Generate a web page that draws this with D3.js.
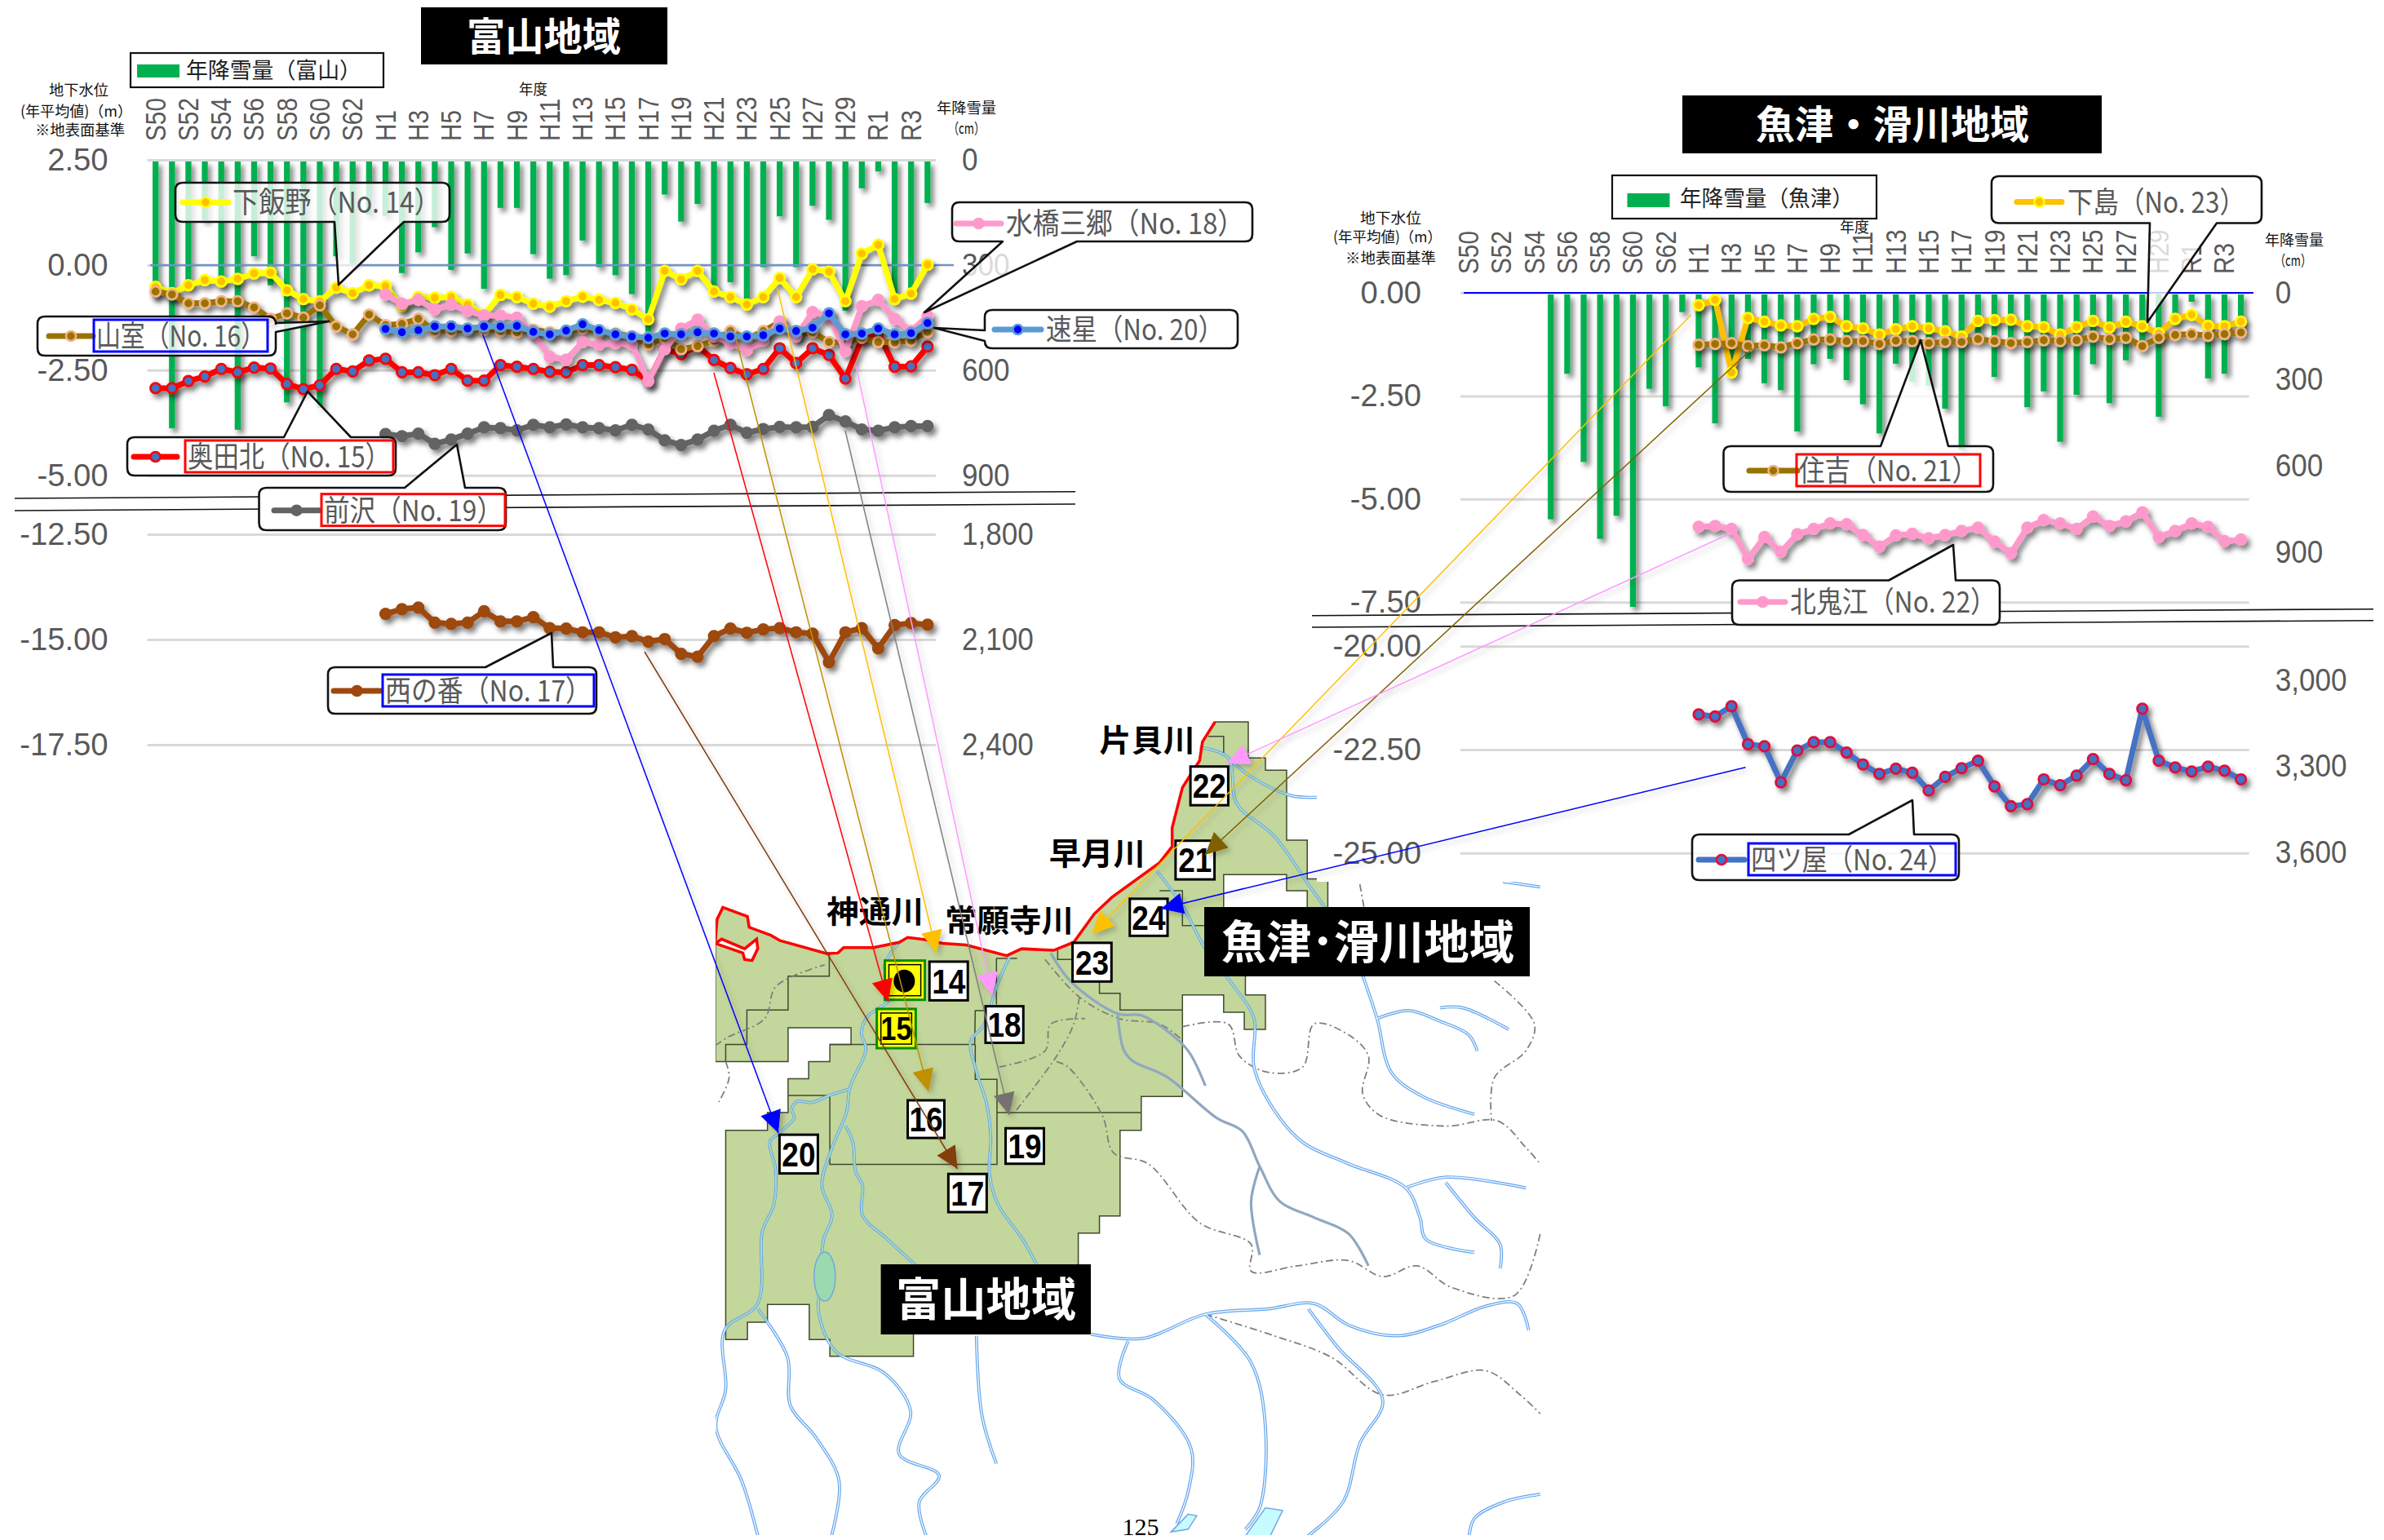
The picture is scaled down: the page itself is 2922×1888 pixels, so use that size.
<!DOCTYPE html>
<html lang="ja"><head><meta charset="utf-8">
<style>
html,body{margin:0;padding:0;background:#fff}
svg{display:block}
text{font-family:"Noto Sans CJK JP","Noto Sans",sans-serif}
.ax text{font-family:"Liberation Sans",sans-serif;fill:#595959}
</style>
<script src="https://cdn.jsdelivr.net/npm/d3@7"></script>
</head><body><div id="c"></div>
<script>
// ---------- DATA ----------
const categories = ["S50","S51","S52","S53","S54","S55","S56","S57","S58","S59","S60","S61","S62","S63",
 "H1","H2","H3","H4","H5","H6","H7","H8","H9","H10","H11","H12","H13","H14","H15","H16","H17","H18","H19","H20",
 "H21","H22","H23","H24","H25","H26","H27","H28","H29","H30","R1","R2","R3","R4"];
const yearTicks = ["S50","S52","S54","S56","S58","S60","S62","H1","H3","H5","H7","H9","H11","H13","H15","H17","H19","H21","H23","H25","H27","H29","R1","R3"];
const lateYears = categories.slice(14);

const toyamaLevelTicks = [2.5,0,-2.5,-5,-12.5,-15,-17.5];
const toyamaSnowTicks = [0,300,600,900,1800,2100,2400];
const uozuLevelTicks = [0,-2.5,-5,-7.5,-20,-22.5,-25];
const uozuSnowTicks = [0,300,600,900,3000,3300,3600];

const snowToyama = [393,766,360,172,358,770,275,358,692,669,708,275,296,157,160,323,264,192,314,267,368,137,137,269,
 339,329,230,306,329,383,490,99,176,126,374,349,397,306,161,306,131,171,430,81,33,382,370,123];
const snowUozu = [null,null,null,null,null,786,281,587,854,774,1090,333,394,67,259,453,267,229,314,338,481,248,229,303,387,
 488,246,309,322,402,545,158,292,163,397,342,517,354,248,383,234,173,430,107,31,297,281,135];

const no14 = [-0.52,-0.67,-0.48,-0.36,-0.39,-0.33,-0.20,-0.18,-0.60,-0.81,-0.86,-0.54,-0.67,-0.48,-0.50,-0.98,-0.76,-0.78,-0.76,-0.94,-1.18,-0.71,-0.76,-0.92,
 -0.99,-0.86,-0.75,-0.83,-0.90,-1.05,-1.29,-0.14,-0.34,-0.14,-0.63,-0.76,-0.94,-0.76,-0.31,-0.76,-0.10,-0.16,-0.86,0.27,0.48,-0.81,-0.68,0.01];
const no16 = [-0.63,-0.70,-0.91,-0.91,-0.86,-0.86,-1.01,-1.28,-1.15,-1.25,-0.96,-1.46,-1.65,-1.18,-1.43,-1.40,-1.28,-1.57,-1.57,-1.54,-1.54,-1.57,-1.60,-1.54,
 -1.60,-1.60,-1.51,-1.60,-1.63,-1.70,-1.89,-1.74,-2.00,-1.93,-1.80,-1.57,-1.76,-1.57,-1.36,-1.67,-1.60,-1.83,-1.86,-1.73,-1.83,-1.84,-1.80,-1.59];
const no15 = [-2.93,-2.93,-2.76,-2.65,-2.47,-2.55,-2.44,-2.46,-2.83,-2.95,-2.86,-2.47,-2.53,-2.27,-2.23,-2.55,-2.55,-2.62,-2.47,-2.75,-2.75,-2.38,-2.42,-2.47,
 -2.54,-2.55,-2.38,-2.38,-2.43,-2.49,-2.76,-1.99,-2.12,-1.93,-2.26,-2.45,-2.60,-2.47,-1.98,-2.33,-1.98,-2.14,-2.70,-1.76,-1.60,-2.42,-2.41,-1.94];
const no18 = [-0.70,-0.92,-0.83,-1.05,-0.94,-1.09,-1.20,-1.20,-1.25,-1.63,-2.18,-2.25,-1.83,-1.89,-1.86,-1.89,-2.76,-2.00,-1.51,-1.30,-1.70,-1.86,-2.02,-1.80,-1.34,-1.70,-1.12,-1.21,-2.05,-0.98,-0.83,-1.28,-1.57,-1.21];
const no20 = [-1.52,-1.60,-1.55,-1.46,-1.46,-1.51,-1.46,-1.46,-1.45,-1.59,-1.65,-1.56,-1.41,-1.55,-1.65,-1.70,-1.73,-1.63,-1.65,-1.60,-1.63,-1.70,-1.70,-1.67,-1.51,-1.57,-1.49,-1.15,-1.65,-1.63,-1.51,-1.65,-1.62,-1.38];
const no19 = [-4.02,-4.07,-4.01,-4.25,-4.15,-4.01,-3.86,-3.88,-3.93,-3.80,-3.86,-3.79,-3.86,-3.88,-3.93,-3.80,-3.91,-4.17,-4.28,-4.15,-3.94,-3.80,-3.99,-3.90,-3.85,-3.86,-3.85,-3.57,-3.72,-3.91,-3.94,-3.86,-3.83,-3.83];
const no17 = [-14.39,-14.28,-14.24,-14.60,-14.63,-14.60,-14.33,-14.57,-14.57,-14.47,-14.73,-14.74,-14.83,-14.83,-14.95,-14.92,-15.05,-14.99,-15.34,-15.41,-14.92,-14.74,-14.84,-14.76,-14.73,-14.83,-14.86,-15.54,-14.83,-14.73,-15.21,-14.66,-14.61,-14.65];
const no23 = [-0.30,-0.17,-1.93,-0.61,-0.70,-0.79,-0.81,-0.63,-0.58,-0.81,-0.86,-1.01,-0.88,-0.81,-0.86,-0.93,-1.06,-0.68,-0.66,-0.65,-0.81,-0.83,-1.01,-0.83,-0.68,-0.84,-0.70,-0.81,-0.98,-0.63,-0.53,-0.80,-0.81,-0.70];
const no21 = [-1.26,-1.24,-1.22,-1.29,-1.27,-1.32,-1.22,-1.13,-1.13,-1.17,-1.17,-1.24,-1.16,-1.17,-1.22,-1.19,-1.19,-1.12,-1.17,-1.22,-1.19,-1.15,-1.17,-1.15,-1.06,-1.12,-1.09,-1.29,-1.09,-1.02,-1.00,-1.04,-1.00,-0.96];
const no22 = [-5.67,-5.65,-5.72,-6.45,-5.92,-6.28,-5.85,-5.72,-5.59,-5.61,-5.87,-6.15,-5.88,-5.84,-5.95,-5.87,-5.77,-5.69,-6.03,-6.31,-5.69,-5.51,-5.59,-5.72,-5.42,-5.65,-5.54,-5.32,-5.92,-5.77,-5.59,-5.67,-6.02,-5.98];
const no24 = [-21.65,-21.70,-21.45,-22.37,-22.42,-23.29,-22.52,-22.32,-22.32,-22.57,-22.86,-23.09,-22.96,-23.06,-23.49,-23.16,-22.95,-22.77,-23.39,-23.87,-23.82,-23.22,-23.36,-23.13,-22.73,-23.09,-23.24,-21.51,-22.77,-22.93,-23.03,-22.91,-23.01,-23.22];

// map geometry, in map units
const coast = [[24,444],[27,405],[37,383],[80,400],[83,420],[121,435],[137,445],[218,469],[238,468],[248,458],[300,458],[345,448],[360,439],[391,443],[421,450],[462,453],[533,473],[559,460],[615,463],[650,448],[686,395],[717,364],[800,300],[822,270],[822,235],[840,160],[870,110],[875,75],[897,38]];
const coastLoop = [[24,450],[72,468],[75,480],[88,482],[98,460],[96,442],[75,460],[35,442]];
const regionTail = [[955,38],[955,105],[985,105],[985,128],[1022,128],[1022,258],[1058,258],[1058,330],[1094,330],[1094,385],[950,512],[950,546],[985,546],[985,610],[948,610],[948,578],[912,578],[912,546],[840,546],[840,735],[768,735],[768,798],[731,798],[731,957],[695,957],[695,989],[658,989],[658,1047],[500,1100],[370,1177],[370,1218],[224,1218],[224,1187],[188,1187],[188,1122],[115,1122],[115,1155],[80,1155],[80,1187],[42,1187],[42,798],[115,798],[115,765],[151,765],[151,702],[187,702],[187,670],[224,670],[224,638],[261,638],[261,607],[151,607],[151,670],[24,670]];
const regionHole = [[912,322],[1022,322],[1022,352],[1058,352],[1058,385],[912,385]];
const meshLines = [
 [[223,469],[223,511],[151,511],[151,574],[79,574],[79,638],[42,638],[42,670]],
 [[224,638],[477,638],[478,575],[495,575]],
 [[151,733],[224,733],[224,861],[516,861],[516,703],[478,703],[478,638]],
 [[516,765],[768,765]],[[515,478],[551,478]],[[515,478],[515,564]],
 [[622,463],[622,480],[648,480]],[[695,519],[695,543],[731,543],[731,574],[840,574]],
 [[800,352],[840,352],[840,417],[878,417]],[[885,65],[912,65],[912,100]]
];
const rivers = [
 [[345,448],[320,490],[330,551],[289,587],[279,617],[287,647],[259,718],[253,764],[228,830],[210,900],[228,956],[213,1001],[208,1070],[205,1140],[235,1210],[320,1250],[365,1320],[345,1400],[415,1440],[380,1490],[395,1560]],
 [[251,789],[264,819],[269,875],[281,900],[281,956],[325,1001],[375,1050]],
 [[259,721],[223,733],[192,746],[167,744],[157,759],[162,774],[134,804],[119,819],[129,870],[126,936],[106,986],[98,1120],[40,1170],[42,1280],[25,1350],[70,1450],[100,1560]],
 [[98,1130],[150,1220],[155,1310],[200,1370],[240,1450],[225,1560]],
 [[538,475],[515,531],[493,602],[470,632],[480,688],[498,749],[505,809],[503,880],[518,936],[561,1001],[585,1047]],
 [[480,1180],[490,1330],[515,1418]],
 [[795,315],[840,380],[880,460],[930,530],[965,590],[965,680],[1000,760],[1050,820],[1130,860],[1230,905],[1255,960],[1265,1000],[1350,1025]],
 [[1230,905],[1300,885],[1440,905]],[[1300,895],[1350,960],[1395,1010],[1395,1055]],
 [[870,85],[920,105],[935,190],[1000,250],[1060,340],[1090,385]],[[920,105],[960,140],[1030,175],[1075,178]],
 [[1155,510],[1180,590],[1205,690],[1260,735],[1350,768]],[[1180,590],[1235,575],[1290,595],[1340,620],[1355,650]],[[1290,570],[1330,570],[1410,610]],
 [[1400,335],[1465,345]],
 [[680,1177],[770,1185],[880,1140],[990,1130],[1070,1120],[1130,1160],[1215,1180],[1290,1160],[1370,1125],[1425,1120],[1445,1170]],
 [[745,1190],[730,1260],[790,1300],[855,1390],[850,1470],[830,1530]],
 [[880,1140],[960,1230],[985,1350],[975,1500],[950,1540]],
 [[1060,1130],[1110,1200],[1190,1300],[1150,1380],[1120,1490],[1050,1560]],
 [[1465,1475],[1400,1490],[1350,1520],[1340,1560]]
];
const greyRivers = [
 [[610,468],[645,521],[727,581],[768,584],[812,612],[850,650],[880,715]],
 [[727,581],[737,647],[752,668],[812,698],[900,775],[945,800],[975,865],[1010,930],[1070,960],[1130,990],[1165,1050]],
 [[975,865],[960,930],[975,1030]]
];
const dottedLines = [
 [[24,640],[45,625],[110,590],[130,530],[215,490]],[[42,670],[48,700],[30,745]],
 [[600,480],[660,550],[730,590],[800,600],[840,630]],
 [[520,680],[600,650],[610,600],[670,590]],[[660,550],[650,600],[620,660],[550,760]],[[620,670],[640,680],[700,770],[720,840],[780,860],[870,970],[960,1010],[960,1060],[1040,1050],[1130,1040],[1190,1070],[1250,1050],[1310,1090],[1420,1105],[1465,990]],
 [[840,605],[920,600],[940,660],[990,690],[1050,680],[1070,600],[1130,620],[1165,660],[1155,730],[1185,770],[1300,790],[1390,780],[1440,830],[1465,860]],
 [[1150,340],[1160,400]],[[1385,520],[1455,600],[1440,650],[1385,700],[1380,780]],
 [[880,1140],[1000,1180],[1100,1220],[1190,1290],[1280,1265],[1370,1245],[1430,1290],[1465,1325]]
];
// ---------- LAYOUT ----------
const W = 2922, H = 1888;
const svg = d3.select("#c").append("svg").attr("width",W).attr("height",H).attr("viewBox",`0 0 ${W} ${H}`);
const defs = svg.append("defs");
const fl2 = defs.append("filter").attr("id","shThin").attr("filterUnits","userSpaceOnUse").attr("x",0).attr("y",0).attr("width",W).attr("height",H);
fl2.append("feDropShadow").attr("dx",4).attr("dy",4).attr("stdDeviation",3).attr("flood-color","#000").attr("flood-opacity",0.22);
defs.append("filter").attr("id","shWide").attr("filterUnits","userSpaceOnUse").attr("x",0).attr("y",0).attr("width",W).attr("height",H)
  .append("feDropShadow").attr("dx",4).attr("dy",5).attr("stdDeviation",3).attr("flood-color","#000").attr("flood-opacity",0.5);

// squeeze a text selection horizontally to a fraction of its natural width
const squeeze = (sel,f)=>sel.each(function(){
  const l=this.getComputedTextLength();
  d3.select(this).attr("textLength",l*f).attr("lengthAdjust","spacingAndGlyphs");
});

const mapX = d3.scaleLinear().domain([0,1568]).range([860,1960]);
const mapY = d3.scaleLinear().domain([0,1560]).range([860,1888]);
const mapLine = d3.line().x(p=>mapX(p[0])).y(p=>mapY(p[1]));
const riverLine = d3.line().x(p=>mapX(p[0])).y(p=>mapY(p[1])).curve(d3.curveCatmullRom.alpha(0.5));

// ---------- MAP ----------
defs.append("clipPath").attr("id","mapClip").append("rect").attr("x",877).attr("y",860).attr("width",1012).attr("height",1022);
const regionPts = coast.concat(regionTail);
defs.append("clipPath").attr("id","regionClip").append("path").attr("d",mapLine(regionPts)+"Z");
const map = svg.append("g").attr("clip-path","url(#mapClip)");
map.append("path").attr("d",mapLine(regionPts)+"Z").attr("fill","#C3D69B").attr("stroke","#3f4a30").attr("stroke-width",1.5);
map.append("path").attr("d",mapLine(regionHole)+"Z").attr("fill","#fff").attr("stroke","#3f4a30").attr("stroke-width",1.5);
map.selectAll("path.mesh").data(meshLines).join("path").attr("class","mesh").attr("d",mapLine).attr("fill","none").attr("stroke","#3f4a30").attr("stroke-width",1.5);
map.selectAll("path.dot").data(dottedLines).join("path").attr("class","dot").attr("d",riverLine).attr("fill","none").attr("stroke","#7f7f7f").attr("stroke-width",1.8).attr("stroke-dasharray","9 4 2 4");
map.selectAll("path.rvO").data(rivers).join("path").attr("class","rvO").attr("d",riverLine).attr("fill","none").attr("stroke","#69A4EC").attr("stroke-width",3.8);
map.selectAll("path.rvI").data(rivers).join("path").attr("class","rvI").attr("d",riverLine).attr("fill","none").attr("stroke","#EAFBFF").attr("stroke-width",1.4);
map.append("g").attr("clip-path","url(#regionClip)").selectAll("path").data(rivers).join("path").attr("d",riverLine).attr("fill","none").attr("stroke","#9FD8B4").attr("stroke-width",1.6);
map.selectAll("path.grO").data(greyRivers).join("path").attr("class","grO").attr("d",riverLine).attr("fill","none").attr("stroke","#8FA8C0").attr("stroke-width",3.2);
map.append("ellipse").attr("cx",mapX(215)).attr("cy",mapY(1070)).attr("rx",13).attr("ry",30).attr("fill","#9BD9B0").attr("stroke","#6FA8E0").attr("stroke-width",1.5);
const lakes = [[[945,1560],[985,1500],[1015,1505],[990,1560]],[[820,1545],[850,1512],[865,1515],[850,1540]]];
map.selectAll("path.lake").data(lakes).join("path").attr("class","lake").attr("d",d=>mapLine(d)+"Z").attr("fill","#C8FBFF").attr("stroke","#6FA8E0").attr("stroke-width",1.5);
map.append("path").attr("d",mapLine(coast)).attr("fill","none").attr("stroke","#f00").attr("stroke-width",3.5);
map.append("path").attr("d",mapLine(coastLoop)+"Z").attr("fill","#fff").attr("stroke","#f00").attr("stroke-width",3.5);

// white sheet the right-hand chart sits on
svg.append("rect").attr("x",1614).attr("y",0).attr("width",W-1614).attr("height",1081).attr("fill","#fff");

// numbers on the map
const wellBoxes = [["14",398,484,465,556],["16",360,742,424,812],["17",431,879,498,950],["18",496,567,562,635],["19",531,794,598,860],["20",136,806,203,878],["21",828,259,896,331],["22",854,121,920,193],["23",648,449,716,521],["24",748,367,814,436]];
const mg = svg.append("g");
wellBoxes.forEach(([id,a,b,c,d])=>{
  mg.append("rect").attr("x",mapX(a)).attr("y",mapY(b)).attr("width",mapX(c)-mapX(a)).attr("height",mapY(d)-mapY(b)).attr("fill","#fff").attr("stroke","#000").attr("stroke-width",3);
  mg.append("text").attr("x",(mapX(a)+mapX(c))/2).attr("y",(mapY(b)+mapY(d))/2+15).attr("text-anchor","middle")
    .style("font-family","Liberation Sans").style("font-weight",700).attr("font-size",42).attr("fill","#000").text(id).call(squeeze,0.88);
});
[[306,572,374,645,"15"],[320,482,390,555,""]].forEach(([a,b,c,d,t])=>{
  mg.append("rect").attr("x",mapX(a)).attr("y",mapY(b)).attr("width",mapX(c)-mapX(a)).attr("height",mapY(d)-mapY(b)).attr("fill","#FFFF00").attr("stroke","#009000").attr("stroke-width",3);
  mg.append("rect").attr("x",mapX(a)+5).attr("y",mapY(b)+5).attr("width",mapX(c)-mapX(a)-10).attr("height",mapY(d)-mapY(b)-10).attr("fill","none").attr("stroke","#000").attr("stroke-width",1.5);
  if(t) mg.append("text").attr("x",(mapX(a)+mapX(c))/2).attr("y",(mapY(b)+mapY(d))/2+14).attr("text-anchor","middle")
    .style("font-family","Liberation Sans").style("font-weight",700).attr("font-size",40).attr("fill","#000").text(t).call(squeeze,0.85);
});
mg.append("ellipse").attr("cx",mapX(354)).attr("cy",mapY(520)).attr("rx",13).attr("ry",14).attr("fill","#000");
// river names
[["片貝川",695,862,92],["早月川",607,775,303],["神通川",218,388,412],["常願寺川",425,650,428]].forEach(([t,a,b,y])=>{
  mg.append("text").attr("x",mapX(a)).attr("y",mapY(y)).attr("textLength",mapX(b)-mapX(a)).attr("lengthAdjust","spacingAndGlyphs")
    .attr("font-size",38).style("font-weight",700).attr("fill","#000").text(t);
});
// ---------- CHART BUILDER ----------
function chart(o){
  const x = d3.scaleBand().domain(categories).range(o.xRange).paddingInner(0.64).paddingOuter(0.32);
  const xc = d => x(d)+x.bandwidth()/2;
  const y = d3.scaleLinear().domain(o.levelDomain).range(o.levelRange);
  const s = d3.scaleLinear().domain(o.snowDomain).range(o.snowRange);
  const g = svg.append("g");
  const w = o.xRange[1]-o.xRange[0];
  // grid + level axis
  const lAx = g.append("g").attr("class","ax").attr("transform",`translate(${o.xRange[0]},0)`)
    .call(d3.axisLeft(y).tickValues(o.levelTicks).tickSize(-w).tickPadding(48).tickFormat(v=>v.toFixed(2)));
  lAx.select(".domain").remove();
  lAx.selectAll("line").attr("stroke","#D9D9D9").attr("stroke-width",3);
  lAx.selectAll("text").attr("font-size",39).call(squeeze,0.98);
  const rAx = g.append("g").attr("class","ax").attr("transform",`translate(${o.xRange[1]},0)`)
    .call(d3.axisRight(s).tickValues(o.snowTicks).tickSize(0).tickPadding(o.snowPad).tickFormat(d3.format(",")));
  rAx.select(".domain").remove();
  rAx.selectAll("text").attr("font-size",39).call(squeeze,0.9);
  const tAx = g.append("g").attr("class","ax").attr("transform",`translate(0,${o.catY})`)
    .call(d3.axisTop(x).tickValues(yearTicks).tickSize(0).tickPadding(0));
  tAx.select(".domain").remove();
  tAx.selectAll("text").attr("font-size",35).attr("text-anchor","start").attr("dy",null)
    .attr("transform","rotate(-90)").attr("x",0).attr("y",12).attr("fill","#666").call(squeeze,0.85);
  // bars
  g.append("g").attr("filter","url(#shWide)").selectAll("rect").data(categories.map((c,i)=>[c,o.snow[i]]).filter(d=>d[1]!=null)).join("rect")
    .attr("x",d=>x(d[0])).attr("width",x.bandwidth()).attr("y",s(0)+2).attr("height",d=>s(d[1])-s(0)-2).attr("fill","#00B050");
  // zero line
  g.append("line").attr("x1",o.zero[0]).attr("x2",o.zero[1]).attr("y1",y(0)).attr("y2",y(0)).attr("stroke",o.zeroColor).attr("stroke-width",o.zeroW);
  // series
  o.series.forEach(d=>{
    const cats = d.values.length===48?categories:lateYears;
    const pts = d.values.map((v,i)=>[xc(cats[i]),y(v)]);
    const sg = g.append("g").attr("filter","url(#shWide)");
    sg.append("path").attr("d",d3.line()(pts)).attr("fill","none").attr("stroke",d.line).attr("stroke-width",7).attr("stroke-linejoin","round");
    sg.selectAll("circle").data(pts).join("circle").attr("cx",p=>p[0]).attr("cy",p=>p[1]).attr("r",6.2).attr("fill",d.fill).attr("stroke",d.stroke).attr("stroke-width",2.8);
  });
  return {x,y,s,g};
}

const C = {
 y14:{line:"#FFFF00",fill:"#FFC000",stroke:"#FFFF00"},
 b16:{line:"#997300",fill:"#997300",stroke:"#F4B183"},
 r15:{line:"#FF0000",fill:"#4472C4",stroke:"#FF0000"},
 p18:{line:"#FF99CC",fill:"#FF99CC",stroke:"#FF99CC"},
 b20:{line:"#5B9BD5",fill:"#0000FF",stroke:"#5B9BD5"},
 g19:{line:"#636363",fill:"#636363",stroke:"#636363"},
 o17:{line:"#9E480E",fill:"#9E480E",stroke:"#9E480E"},
 y23:{line:"#FFC000",fill:"#FFC000",stroke:"#FFFF00"},
 b24:{line:"#4472C4",fill:"#4472C4",stroke:"#E0103C"}
};
chart({
  xRange:[180.6,1146.9],catY:173,snowPad:32,
  levelDomain:[2.5,-5,-12.5,-17.5],levelRange:[196,582.7,655,913],
  snowDomain:[0,900,1800,2400],snowRange:[196,582.7,655,913],
  levelTicks:toyamaLevelTicks,snowTicks:toyamaSnowTicks,snow:snowToyama,
  zero:[184,1169],zeroColor:"#7193C9",zeroW:2.5,
  series:[{values:no15,...C.r15},{values:no19,...C.g19},{values:no17,...C.o17},{values:no14,...C.y14},{values:no16,...C.b16},{values:no18,...C.p18},{values:no20,...C.b20}]
});
chart({
  xRange:[1790,2756.7],catY:336,snowPad:32,
  levelDomain:[0,-7.5,-20,-25],levelRange:[359,738.3,792.3,1045.7],
  snowDomain:[0,1090,3000,3600],snowRange:[359,744,834,1045],
  levelTicks:uozuLevelTicks,snowTicks:uozuSnowTicks,snow:snowUozu,
  zero:[1794,2762],zeroColor:"#0000FF",zeroW:2,
  series:[{values:no23,...C.y23},{values:no21,...C.b16},{values:no22,...C.p18},{values:no24,...C.b24}]
});

// axis captions
const cap = (t,a,b,y)=>svg.append("text").attr("x",a).attr("y",y+6).attr("textLength",b-a).attr("lengthAdjust","spacingAndGlyphs").attr("font-size",18).attr("fill","#111").text(t);
[["地下水位",60,133,111],["(年平均値)（m）",25,162,137],["※地表面基準",43,153,160],["年度",636,671,110],["年降雪量",1148,1221,133],["（cm）",1162,1207,158],
 ["地下水位",1667,1742,268],["(年平均値)（m）",1634,1767,291],["※地表面基準",1649,1760,317],["年度",2255,2291,279],["年降雪量",2776,2848,295],["（cm）",2788,2833,320]].forEach(a=>cap(...a));

// break lines
[[18,611,1318,602.7],[18,626,1318,618],[1608,754.7,2909,746.7],[1608,769,2909,760.7]].forEach(([a,b,c,d])=>{
  svg.append("line").attr("x1",a).attr("y1",b).attr("x2",c).attr("y2",d).attr("stroke","#111").attr("stroke-width",1.6);
});

// ---------- ARROWS (chart to map) ----------
const arrows = [
 ["#0000FF",[591.7,410],[954,1389],"#0000FF"],
 ["#843C0C",[790,799],[1173.6,1433],"#843C0C"],
 ["#FF0000",[875,457],[1088.6,1228],"#FF0000"],
 ["#BF9000",[900.7,410],[1138,1338],"#BF9000"],
 ["#FFC000",[953,354],[1148,1168],"#FFC000"],
 ["#7F7F7F",[1036,528],[1237,1367],"#767171"],
 ["#FF99FF",[1049,448],[1216,1220],"#FF99FF"],
 ["#FFC000",[2072.7,386],[1338.6,1145],"#FFC000"],
 ["#7F6000",[2148,427],[1477,1048],"#7F6000"],
 ["#FF99FF",[2123,653],[1504,936],"#FF99FF"],
 ["#0000FF",[2139.5,940.7],[1423,1114],"#0000FF"]
];
const arr = svg.append("g").attr("filter","url(#shThin)");
arrows.forEach(([c,from,to,h])=>{
  arr.append("line").attr("x1",from[0]).attr("y1",from[1]).attr("x2",to[0]).attr("y2",to[1]).attr("stroke",c).attr("stroke-width",1.5);
  const ang = Math.atan2(to[1]-from[1],to[0]-from[0]), L=27, B=13;
  const bx = to[0]-L*Math.cos(ang), by = to[1]-L*Math.sin(ang);
  const nx = -Math.sin(ang)*B, ny = Math.cos(ang)*B;
  arr.append("path").attr("d",d3.line()([to,[bx+nx,by+ny],[bx-nx,by-ny]])+"Z").attr("fill",h);
});

// ---------- CALLOUTS ----------
function calloutPath(b,side,a1,a2,tip){
  const r=9,{x0,y0,x1,y1}=b;
  let p=`M${x0+r},${y0}`;
  if(side==="top") p+=`L${a1},${y0}L${tip[0]},${tip[1]}L${a2},${y0}`;
  p+=`L${x1-r},${y0}Q${x1},${y0} ${x1},${y0+r}`;
  if(side==="right") p+=`L${x1},${a1}L${tip[0]},${tip[1]}L${x1},${a2}`;
  p+=`L${x1},${y1-r}Q${x1},${y1} ${x1-r},${y1}`;
  if(side==="bottom") p+=`L${a2},${y1}L${tip[0]},${tip[1]}L${a1},${y1}`;
  p+=`L${x0+r},${y1}Q${x0},${y1} ${x0},${y1-r}`;
  if(side==="left") p+=`L${x0},${a2}L${tip[0]},${tip[1]}L${x0},${a1}`;
  p+=`L${x0},${y0+r}Q${x0},${y0} ${x0+r},${y0}Z`;
  return p;
}
const callouts = [
 {t:"下飯野（No. 14）",b:[215,224,551,272],side:"bottom",a:[410,495],tip:[415,349],lg:[224,280,248],tx:[285,540],c:C.y14},
 {t:"水橋三郷（No. 18）",b:[1167,248,1535,296],side:"bottom",a:[1229,1320],tip:[1133,383],lg:[1172,1227,274],tx:[1233,1525],c:C.p18},
 {t:"山室（No. 16）",b:[46,388,338,436],side:"right",a:[396,407],tip:[403,394],lg:[60,114,412],tx:[118,325],c:C.b16,box:"#0000FF"},
 {t:"奥田北（No. 15）",b:[156,536,485,583],side:"top",a:[348,430],tip:[377,480],lg:[164,217,560],tx:[230,479],c:C.r15,box:"#FF0000"},
 {t:"前沢（No. 19）",b:[317.5,598,620,650],side:"top",a:[496,570],tip:[560,545],lg:[336,391,625.7],tx:[397,616],c:C.g19,box:"#FF0000",solid:1},
 {t:"西の番（No. 17）",b:[402,818,731,875],side:"top",a:[595,678],tip:[676,776],lg:[409,466,847],tx:[472,725],c:C.o17,box:"#0000FF"},
 {t:"速星（No. 20）",b:[1207,380,1517,427],side:"left",a:[405,418],tip:[1145,402],lg:[1219,1276,404],tx:[1282,1500],c:C.b20},
 {t:"下島（No. 23）",b:[2441,216,2772,273.5],side:"bottom",a:[2635,2717],tip:[2632,395],lg:[2472,2527,247.5],tx:[2534,2752],c:C.y23},
 {t:"住吉（No. 21）",b:[2112.5,547,2443,603],side:"top",a:[2305,2388],tip:[2354,417],lg:[2144,2203,577],tx:[2205,2424],c:C.b16,box:"#FF0000"},
 {t:"北鬼江（No. 22）",b:[2123,711.5,2451,766],side:"top",a:[2315,2397],tip:[2394,668],lg:[2133,2188,738],tx:[2194,2447],c:C.p18,solid:1},
 {t:"四ツ屋（No. 24）",b:[2074,1023,2401,1079],side:"top",a:[2266,2346],tip:[2344,981],lg:[2082,2138,1054],tx:[2146,2394],c:C.b24,box:"#0000FF"}
];
callouts.forEach(k=>{
  const [x0,y0,x1,y1]=k.b;
  const g=svg.append("g");
  g.append("path").attr("d",calloutPath({x0,y0,x1,y1},k.side,k.a[0],k.a[1],k.tip)).attr("fill",k.solid?"#fff":"rgba(255,255,255,0.78)").attr("stroke","#111").attr("stroke-width",2.6).attr("stroke-linejoin","round");
  const ym=k.lg[2];
  g.append("line").attr("x1",k.lg[0]).attr("x2",k.lg[1]).attr("y1",ym).attr("y2",ym).attr("stroke",k.c.line).attr("stroke-width",7).attr("stroke-linecap","round");
  g.append("circle").attr("cx",(k.lg[0]+k.lg[1])/2).attr("cy",ym).attr("r",6).attr("fill",k.c.fill).attr("stroke",k.c.stroke).attr("stroke-width",2.6);
  g.append("text").attr("x",k.tx[0]).attr("y",ym+13).attr("textLength",k.tx[1]-k.tx[0]).attr("lengthAdjust","spacingAndGlyphs").attr("font-size",36).attr("fill","#595959").text(k.t);
  if(k.box) g.append("rect").attr("x",k.tx[0]-3).attr("y",ym-20).attr("width",k.tx[1]-k.tx[0]+6).attr("height",39).attr("fill","none").attr("stroke",k.box).attr("stroke-width",3);
});

// snow legends
[{b:[160,65,470,107],s:[168,79,52,16],t:"年降雪量（富山）",tx:[228,443],y:96},
 {b:[1976,215,2300,268],s:[1994.5,237,52,17],t:"年降雪量（魚津）",tx:[2059,2272],y:253}].forEach(k=>{
  svg.append("rect").attr("x",k.b[0]).attr("y",k.b[1]).attr("width",k.b[2]-k.b[0]).attr("height",k.b[3]-k.b[1]).attr("fill","#fff").attr("stroke","#111").attr("stroke-width",2.2);
  svg.append("rect").attr("x",k.s[0]).attr("y",k.s[1]).attr("width",k.s[2]).attr("height",k.s[3]).attr("fill","#00B050");
  svg.append("text").attr("x",k.tx[0]).attr("y",k.y).attr("textLength",k.tx[1]-k.tx[0]).attr("lengthAdjust","spacingAndGlyphs").attr("font-size",27).attr("fill","#222").text(k.t);
});

// black titles
[{r:[516,9,818,79],t:"富山地域",tx:[572,761],y:62,f:48},
 {r:[2062,117,2576,188],t:"魚津・滑川地域",tx:[2152,2487],y:170,f:48},
 {r:[1476,1112,1875,1197],t:"魚津･滑川地域",tx:[1497,1856],y:1175,f:56},
 {r:[1079.6,1550,1337,1636],t:"富山地域",tx:[1098,1319],y:1613,f:56}].forEach(k=>{
  svg.append("rect").attr("x",k.r[0]).attr("y",k.r[1]).attr("width",k.r[2]-k.r[0]).attr("height",k.r[3]-k.r[1]).attr("fill","#000");
  svg.append("text").attr("x",k.tx[0]).attr("y",k.y).attr("textLength",k.tx[1]-k.tx[0]).attr("lengthAdjust","spacingAndGlyphs").attr("font-size",k.f).style("font-weight",700).attr("fill","#fff").text(k.t);
});
// page number
svg.append("text").attr("x",1398).attr("y",1882).attr("text-anchor","middle").style("font-family","Liberation Serif").attr("font-size",30).attr("fill","#000").text("125");
</script></body></html>
